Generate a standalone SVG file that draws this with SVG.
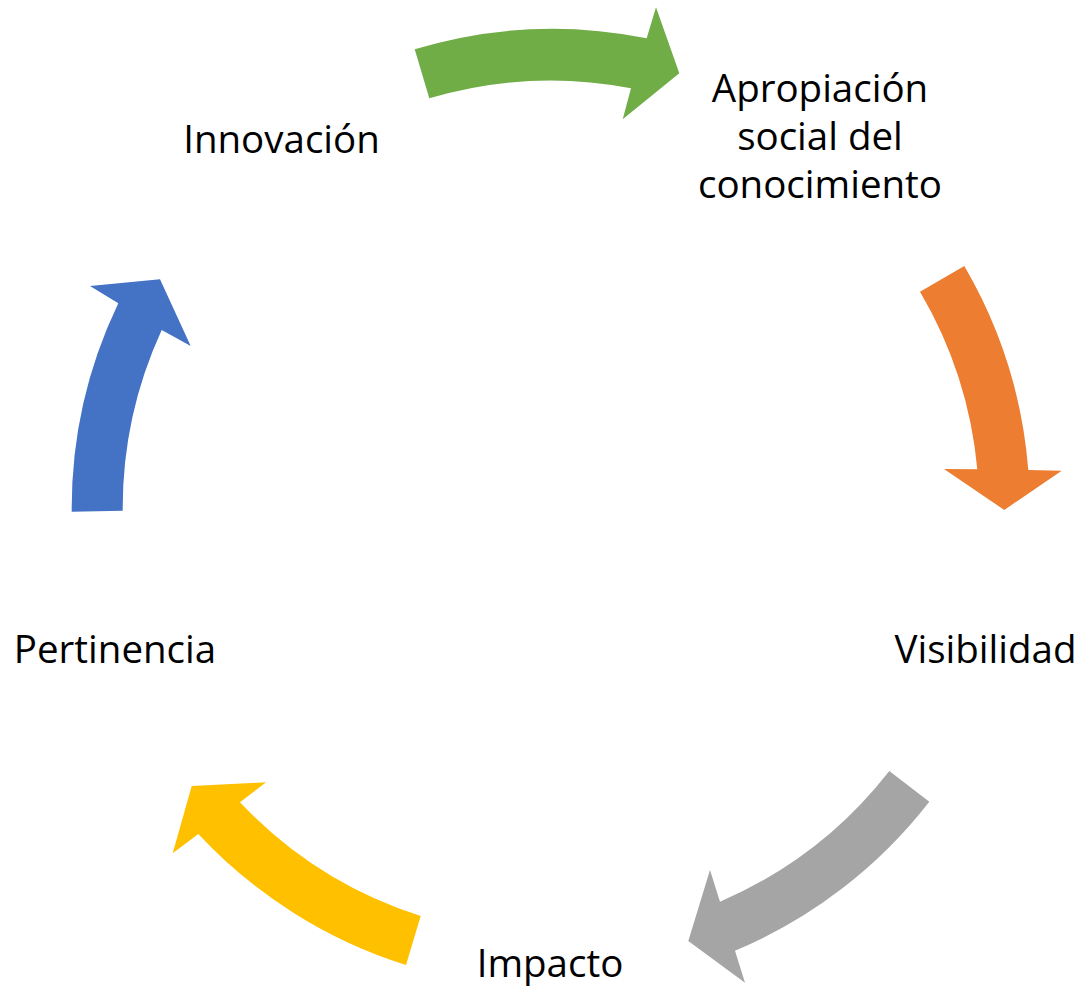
<svg xmlns="http://www.w3.org/2000/svg" width="1082" height="990" viewBox="0 0 1082 990">
  <style>
    .lbl { font-family: "Open Sans", "Noto Sans", "Liberation Sans", sans-serif; font-size: 38.5px; fill: #000000; text-anchor: middle; }
    .green { fill: #70AD47; }
    .orange { fill: #ED7D31; }
    .gray { fill: #A5A5A5; }
    .yellow { fill: #FFC000; }
    .blue { fill: #4472C4; }
  </style>
  <rect width="1082" height="990" fill="#ffffff"/>
  <g id="connectors">
    <path class="green" d="M414.7,49.3 A477,477 0 0,1 646.7,38.3 L656,7.3 L679.3,73.3 L622.7,119.3 L631,88.3 A426,426 0 0,0 429.3,98.3 Z"/>
    <path class="orange" d="M964.3,266 A480,480 0 0,1 1028.3,470 L1061.7,470.7 L1004.3,510 L944,469 L977.3,469.3 A428,428 0 0,0 920,291.7 Z"/>
    <path class="gray" d="M929.3,801.7 A482,482 0 0,1 735,950.7 L745,982.7 L688.3,941 L710,870 L720,901.7 A430,430 0 0,0 889.3,771 Z"/>
    <path class="yellow" d="M406,965 A482,482 0 0,1 198.3,834 L172.7,853.3 L191.7,786 L266,782.3 L240,802.3 A428,428 0 0,0 420.7,916 Z"/>
    <path class="blue" d="M71.7,511.7 A475,475 0 0,1 118.3,303.3 L90,286 L160,279.3 L190.7,346 L161.7,330 A427,427 0 0,0 122.7,510.7 Z"/>
  </g>
  <g id="node-innovacion">
    <text class="lbl" x="281.5" y="152.7">Innovación</text>
  </g>
  <g id="node-apropiacion">
    <text class="lbl" x="820" y="101.7">Apropiación</text>
    <text class="lbl" x="820" y="150">social del</text>
    <text class="lbl" x="820" y="198.3">conocimiento</text>
  </g>
  <g id="node-visibilidad">
    <text class="lbl" x="985.5" y="662.7">Visibilidad</text>
  </g>
  <g id="node-impacto">
    <text class="lbl" x="550" y="976.7">Impacto</text>
  </g>
  <g id="node-pertinencia">
    <text class="lbl" x="115" y="662.7">Pertinencia</text>
  </g>
</svg>
